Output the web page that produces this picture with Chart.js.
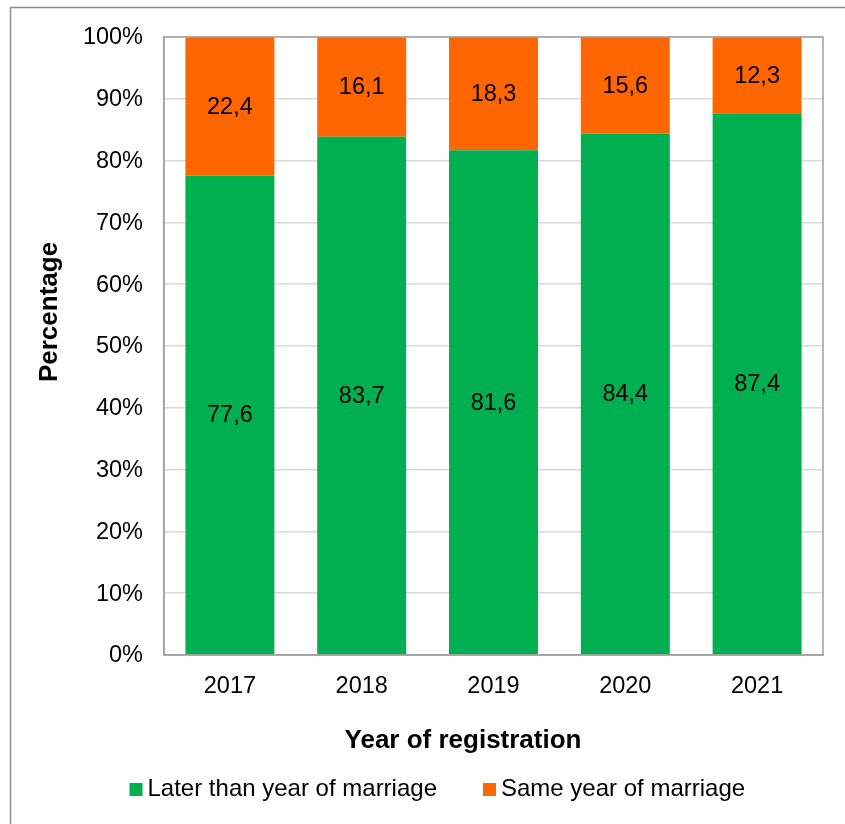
<!DOCTYPE html>
<html>
<head>
<meta charset="utf-8">
<title>Year of registration</title>
<script src="https://cdn.jsdelivr.net/npm/chart.js@4.4.1/dist/chart.umd.min.js"></script>
<style>
  html, body { margin: 0; padding: 0; background: #fff; }
  #wrap { width: 845px; height: 824px; }
</style>
</head>
<body>
<div id="wrap"><canvas id="regChart" width="845" height="824"></canvas></div>
<script>
const years = ["2017", "2018", "2019", "2020", "2021"];
const laterThanMarriage = [77.6, 83.7, 81.6, 84.4, 87.4];
const sameYearMarriage = [22.4, 16.1, 18.3, 15.6, 12.3];
const percentTicks = [0, 10, 20, 30, 40, 50, 60, 70, 80, 90, 100];
const seriesNames = ["Later than year of marriage", "Same year of marriage"];
const seriesColors = ["#00B050", "#FF6600"];
const xTitle = "Year of registration";
const yTitle = "Percentage";

const FONT = "'Liberation Sans', Arial, sans-serif";
Chart.defaults.font.family = FONT;
Chart.defaults.color = "#000";

// 100% stacked: each year is scaled to its own total
const totals = years.map((_, i) => laterThanMarriage[i] + sameYearMarriage[i]);
const share = arr => arr.map((v, i) => v / totals[i] * 100);
const fmt = v => v.toFixed(1).replace(".", ",");

// frame, value labels, axis titles and legend
const decor = {
    id: "decor",
    beforeDraw(chart) {
        const ctx = chart.ctx;
        ctx.save();
        ctx.fillStyle = "#fff";
        ctx.fillRect(0, 0, chart.width, chart.height);
        ctx.strokeStyle = "#8c8c8c";
        ctx.lineWidth = 1.5;
        ctx.beginPath();
        ctx.moveTo(10.5, chart.height);
        ctx.lineTo(10.5, 7.5);
        ctx.lineTo(chart.width, 7.5);
        ctx.stroke();
        ctx.restore();
    },
    afterDatasetsDraw(chart) {
        const ctx = chart.ctx;
        const a = chart.chartArea;
        ctx.save();

        ctx.strokeStyle = "#a0a0a0";
        ctx.lineWidth = 1.5;
        ctx.strokeRect(a.left, a.top, a.right - a.left, a.bottom - a.top);

        ctx.fillStyle = "#000";
        ctx.font = "23.5px " + FONT;
        ctx.textAlign = "center";
        ctx.textBaseline = "middle";
        chart.data.datasets.forEach((ds, di) => {
            chart.getDatasetMeta(di).data.forEach((bar, i) => {
                ctx.fillText(fmt(ds.raw[i]), bar.x, (bar.y + bar.base) / 2 + 1);
            });
        });

        ctx.font = "bold 26px " + FONT;
        ctx.fillText(xTitle, 463, 741);
        ctx.save();
        ctx.translate(50, 312);
        ctx.rotate(-Math.PI / 2);
        ctx.fillText(yTitle, 0, 0);
        ctx.restore();

        // legend
        ctx.font = "24px " + FONT;
        ctx.textAlign = "left";
        let x = 129.5;
        chart.data.datasets.forEach(ds => {
            ctx.fillStyle = ds.backgroundColor;
            ctx.fillRect(x, 783, 13, 13);
            ctx.fillStyle = "#000";
            ctx.fillText(ds.label, x + 18, 789.5);
            x += 18 + ctx.measureText(ds.label).width + 46;
        });

        ctx.restore();
    }
};

new Chart(document.getElementById("regChart"), {
    type: "bar",
    data: {
        labels: years,
        datasets: [
            {
                label: seriesNames[0],
                data: share(laterThanMarriage),
                raw: laterThanMarriage,
                backgroundColor: seriesColors[0],
                barPercentage: 0.675,
                categoryPercentage: 1
            },
            {
                label: seriesNames[1],
                data: share(sameYearMarriage),
                raw: sameYearMarriage,
                backgroundColor: seriesColors[1],
                barPercentage: 0.675,
                categoryPercentage: 1
            }
        ]
    },
    plugins: [decor],
    options: {
        responsive: false,
        animation: false,
        devicePixelRatio: 1,
        layout: { padding: { top: 37, right: 22, left: 0, bottom: 0 } },
        plugins: {
            legend: { display: false },
            tooltip: { enabled: false }
        },
        scales: {
            x: {
                stacked: true,
                grid: { display: false },
                border: { color: "#a0a0a0", width: 1.5 },
                ticks: { font: { size: 23.5 }, padding: 9 },
                afterFit: s => { s.height = 169; }
            },
            y: {
                stacked: true,
                min: 0,
                max: 100,
                afterBuildTicks: s => { s.ticks = percentTicks.map(v => ({ value: v })); },
                grid: { color: "#d9d9d9", lineWidth: 1.5, drawTicks: false },
                border: { color: "#a0a0a0", width: 1.5 },
                ticks: { font: { size: 23.5 }, padding: 21, labelOffset: 1, callback: v => v + "%" },
                afterFit: s => { s.width = 164; }
            }
        }
    }
});
</script>
</body>
</html>
